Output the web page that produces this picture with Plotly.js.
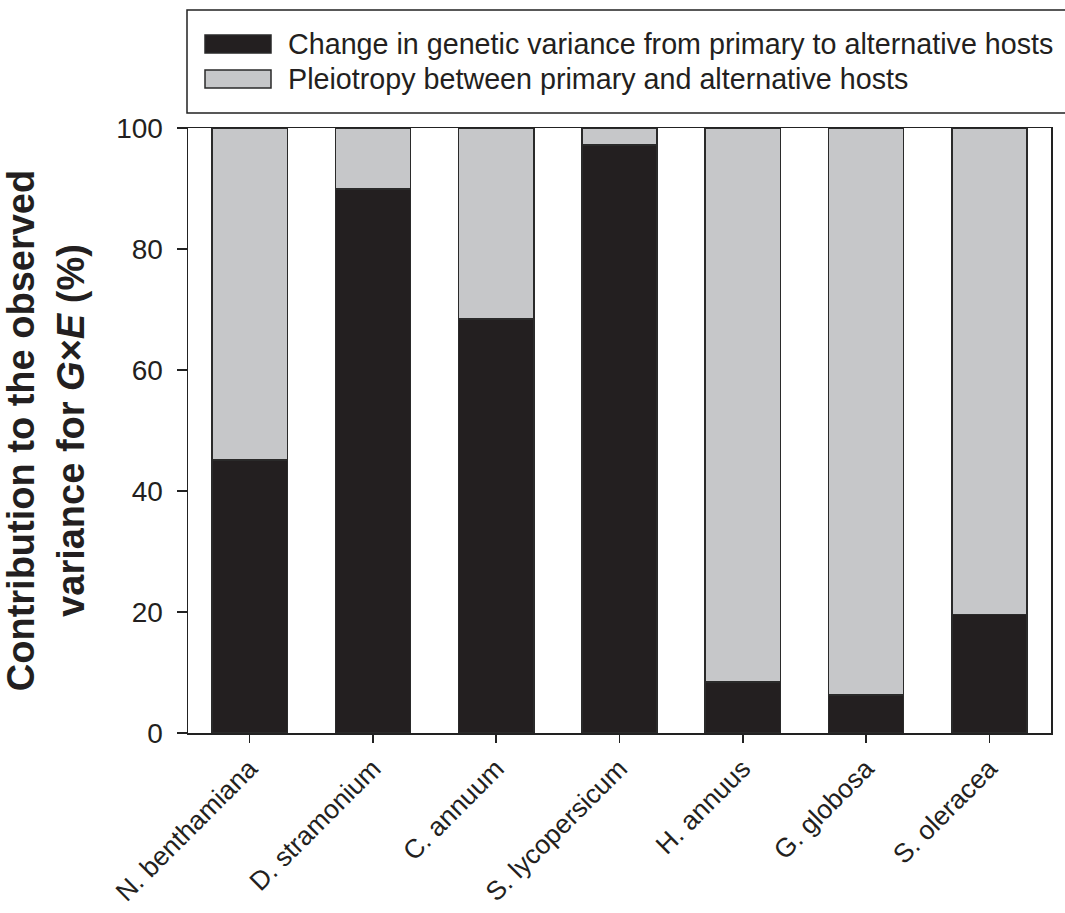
<!DOCTYPE html>
<html>
<head>
<meta charset="utf-8">
<script src="https://cdn.plot.ly/plotly-3.0.1.min.js"></script>
<style>html,body{margin:0;padding:0;background:#fff;}</style>
</head>
<body>
<div id="chart" style="width:1065px;height:913px;"></div>
<script>
// ---- data ----
const hosts = ["N. benthamiana", "D. stramonium", "C. annuum", "S. lycopersicum", "H. annuus", "G. globosa", "S. oleracea"];
const changeGeneticVariance = [45.1, 89.9, 68.4, 97.2, 8.4, 6.3, 19.6];
const pleiotropy = [54.9, 10.1, 31.6, 2.8, 91.6, 93.7, 80.4];
const seriesNames = ["Change in genetic variance from primary to alternative hosts", "Pleiotropy between primary and alternative hosts"];
const yTicks = [0, 20, 40, 60, 80, 100];

// ---- style ----
const W = 1065, H = 913;
const M = {l: 188, r: 14, t: 128, b: 180};
const PW = W - M.l - M.r, PH = H - M.t - M.b;
const px = x => (x - M.l) / PW;
const py = y => (H - M.b - y) / PH;
const FONT = "Arial, 'Liberation Sans', Helvetica, sans-serif";
const colors = ["#231f20", "#c6c7c9"];
const edge = "#2a2a2a";

const traces = [changeGeneticVariance, pleiotropy].map((vals, i) => ({
  type: "bar",
  name: seriesNames[i],
  x: hosts,
  y: vals,
  marker: {color: colors[i], line: {color: edge, width: 1.5}},
  showlegend: false,
  hoverinfo: "x+y+name"
}));

// manual legend (box, swatches, labels)
const legRows = [44, 79];
const shapes = [{
  type: "rect", xref: "paper", yref: "paper",
  x0: px(187), x1: px(1080), y0: py(113), y1: py(10),
  line: {color: "#222", width: 1.5}, fillcolor: "rgba(0,0,0,0)"
}];
const annotations = [];
legRows.forEach((cy, i) => {
  shapes.push({
    type: "rect", xref: "paper", yref: "paper",
    x0: px(205), x1: px(271), y0: py(cy + 9), y1: py(cy - 9),
    line: {color: edge, width: 1.5}, fillcolor: colors[i]
  });
  annotations.push({
    xref: "paper", yref: "paper", x: px(286), y: py(cy),
    xanchor: "left", yanchor: "middle", showarrow: false,
    text: seriesNames[i], font: {family: FONT, size: 28.7, color: "#231f20"}
  });
});

const layout = {
  width: W, height: H,
  margin: M,
  paper_bgcolor: "#fff", plot_bgcolor: "#fff",
  barmode: "stack",
  bargap: 0.39,
  font: {family: FONT, color: "#231f20"},
  xaxis: {
    type: "category",
    range: [-0.5, 6.5],
    showline: true, linecolor: "#222", linewidth: 1.5, mirror: true,
    ticks: "outside", ticklen: 8, tickwidth: 1.5, tickcolor: "#222",
    tickangle: -45,
    tickfont: {family: FONT, size: 26.5, color: "#231f20"},
    showgrid: false, zeroline: false, automargin: false
  },
  yaxis: {
    range: [0, 100],
    tickvals: yTicks,
    showline: true, linecolor: "#222", linewidth: 1.5, mirror: true,
    ticks: "outside", ticklen: 10, tickwidth: 1.5, tickcolor: "#222",
    ticklabelstandoff: 8,
    tickfont: {family: FONT, size: 28, color: "#231f20"},
    showgrid: false, zeroline: false, automargin: false,
    title: {
      text: "<b>Contribution to the observed<br>variance for <i>G</i>×<i>E</i> (%)</b>",
      font: {family: FONT, size: 38, color: "#231f20"},
      standoff: 20
    }
  },
  shapes: shapes,
  annotations: annotations,
  showlegend: false
};

Plotly.newPlot("chart", traces, layout, {displayModeBar: false, staticPlot: true});
</script>
</body>
</html>
